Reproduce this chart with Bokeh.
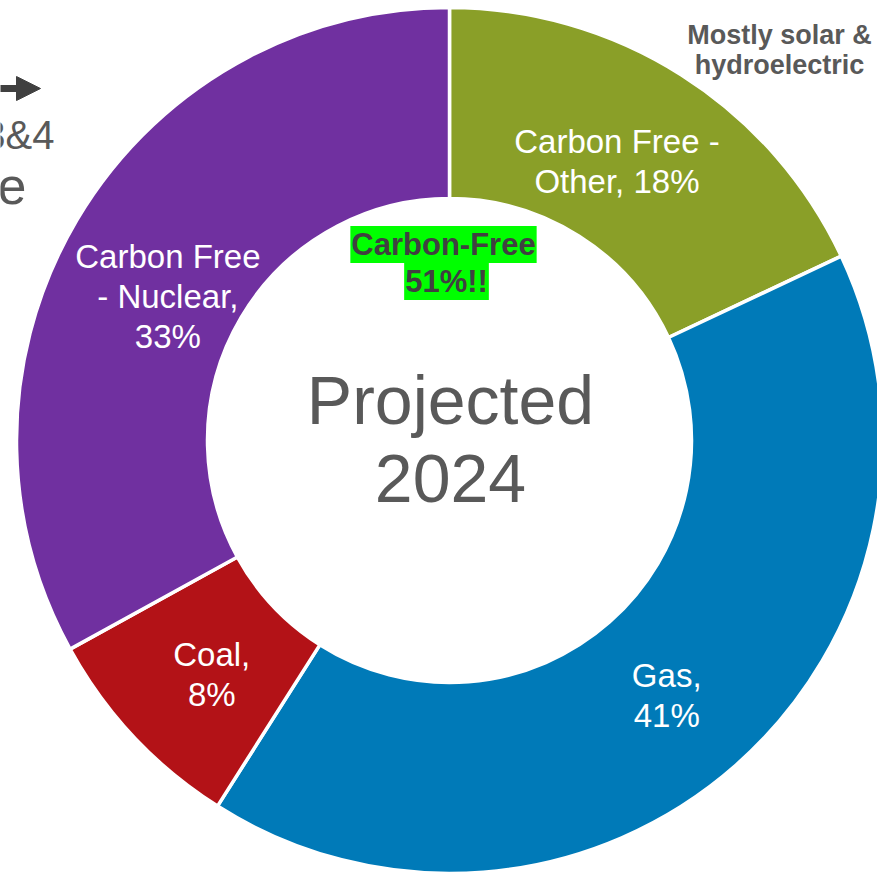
import math
from bokeh.plotting import figure
from bokeh.models import Range1d, ColumnDataSource, Arrow, NormalHead
from bokeh.core.properties import value
from bokeh.embed import file_html
from bokeh.resources import INLINE

# ---- data ----
categories = ["Carbon Free - Other", "Gas", "Coal", "Carbon Free - Nuclear"]
shares = [18, 41, 8, 33]
label_lines = [["Carbon Free -", "Other, {}%"], ["Gas,", "{}%"], ["Coal,", "{}%"],
               ["Carbon Free", "- Nuclear,", "{}%"]]
colors = ["#8A9F28", "#007AB8", "#B31217", "#7030A0"]
center_title = ["Projected", "2024"]
callout_lines = ["Carbon-Free", "51%!!"]
note_lines = ["Mostly solar &", "hydroelectric"]

# ---- layout (screen pixels of the reference) ----
CX, CY = 449, 440
OX, OY = 0, 0
W, H = 877, 872
R_IN, R_OUT = 242, 433
R_LABEL = 333
NUDGE = [(-11, 2), (-3, 5), (5, 6), (5, 26)]
FONT = value("Liberation Sans")


def tx(px):
    return px - CX


def ty(py):
    return CY - py


p = figure(width=W, height=H, output_backend="svg", toolbar_location=None,
           x_range=Range1d(tx(OX), tx(OX + W)), y_range=Range1d(ty(OY + H), ty(OY)),
           min_border=0)
p.axis.visible = False
p.grid.visible = False
p.outline_line_color = None
p.background_fill_color = "white"
p.border_fill_color = "white"

# ---- donut ----
starts, ends, mids = [], [], []
cum = 0.0
for s in shares:
    starts.append(math.pi / 2 - 2 * math.pi * cum / 100)
    ends.append(math.pi / 2 - 2 * math.pi * (cum + s) / 100)
    mids.append(math.pi / 2 - 2 * math.pi * (cum + s / 2) / 100)
    cum += s

src = ColumnDataSource(dict(cat=categories, share=shares, start=starts, end=ends, color=colors))
p.annular_wedge(x=0, y=0, inner_radius=R_IN, outer_radius=R_OUT,
                start_angle="start", end_angle="end", direction="clock",
                fill_color="color", line_color="white", line_width=3.5, source=src)

# ---- segment labels ----
LS = 33
LH = 40
xs, ys, ts = [], [], []
for i, (lines, s, a) in enumerate(zip(label_lines, shares, mids)):
    bx = R_LABEL * math.cos(a) + NUDGE[i][0]
    by = R_LABEL * math.sin(a) - NUDGE[i][1]
    n = len(lines)
    for j, ln in enumerate(lines):
        txt = ln.format(s) if "{}" in ln else ln
        xs.append(bx)
        ys.append(by - (j - (n - 1) / 2) * LH)
        ts.append(txt)
p.text(x=xs, y=ys, text=ts, text_color="white", text_font=FONT,
       text_font_size=f"{LS}px", text_align="center", text_baseline="middle")

# ---- centre title ----
p.text(x=[tx(450), tx(450)], y=[ty(399), ty(478)], text=center_title,
       text_color="#595959", text_font=FONT, text_font_size="68px",
       text_align="center", text_baseline="middle")

# ---- highlighted callout ----
p.text(x=[tx(443), tx(446)], y=[ty(244), ty(281)], text=callout_lines,
       text_color="#404040", text_font=FONT, text_font_style="bold",
       text_font_size="31px", text_align="center", text_baseline="middle",
       background_fill_color="#00FF00", padding=1)

# ---- note at top right ----
p.text(x=[tx(779), tx(779)], y=[ty(34), ty(64)], text=note_lines,
       text_color="#595959", text_font=FONT, text_font_style="bold",
       text_font_size="27px", text_align="center", text_baseline="middle")

# ---- clipped text at the left edge ----
p.text(x=[tx(54)], y=[ty(134)], text=["3&4"], text_color="#595959", text_font=FONT,
       text_font_size="40px", text_align="right", text_baseline="middle")
p.text(x=[tx(26)], y=[ty(185)], text=["e"], text_color="#595959", text_font=FONT,
       text_font_size="52px", text_align="right", text_baseline="middle")
p.add_layout(Arrow(end=NormalHead(size=24, fill_color="#404040", line_color="#404040"),
                   x_start=tx(-30), y_start=ty(88), x_end=tx(40), y_end=ty(88),
                   line_color="#404040", line_width=7))

open("out.html", "w").write(file_html(p, INLINE))
